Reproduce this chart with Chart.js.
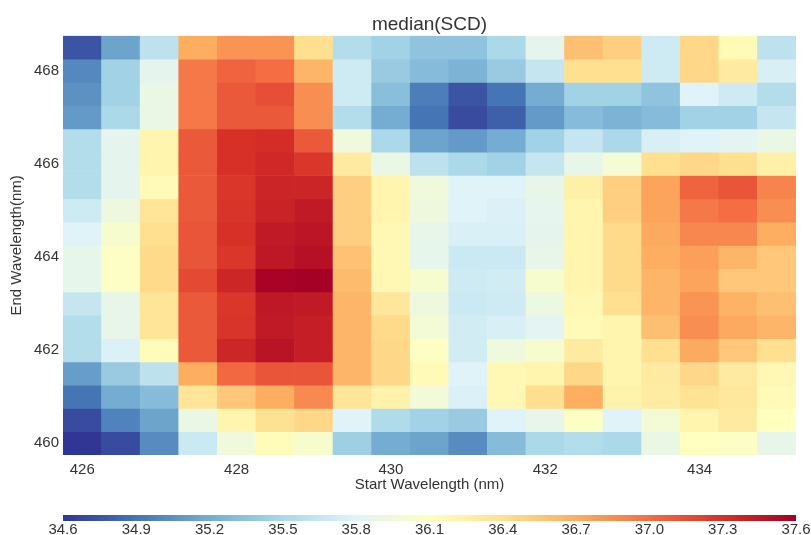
<!DOCTYPE html>
<html>
<head>
<meta charset="utf-8">
<script src="https://cdn.jsdelivr.net/npm/chart.js@4/dist/chart.umd.min.js"></script>
<style>
  body { margin: 0; background: #fff; }
  #wrap { position: relative; width: 811px; height: 535px; }
  #main { position: absolute; left: 0; top: 0; }
  #bar { position: absolute; left: 0; top: 500px; }
</style>
</head>
<body>
<div id="wrap">
  <canvas id="main" width="811" height="500"></canvas>
  <canvas id="bar" width="811" height="35"></canvas>
</div>
<script>
// start wavelengths (columns) and end wavelengths (rows, top to bottom)
const xValues = [426, 426.5, 427, 427.5, 428, 428.5, 429, 429.5, 430, 430.5,
  431, 431.5, 432, 432.5, 433, 433.5, 434, 434.5, 435];
const yValues = [468.5, 468, 467.5, 467, 466.5, 466, 465.5, 465, 464.5, 464,
  463.5, 463, 462.5, 462, 461.5, 461, 460.5, 460];

// median SCD per cell, one row per yValues entry
const scd = [
  [34.75, 35.15, 35.6, 36.7, 36.82, 36.82, 36.4, 35.55, 35.45, 35.35, 35.35, 35.5, 35.85, 36.6, 36.5, 35.7, 36.45, 36.15, 35.6],
  [35.0, 35.45, 35.85, 36.95, 37.05, 37.0, 36.65, 35.7, 35.4, 35.3, 35.25, 35.4, 35.65, 36.4, 36.4, 35.7, 36.45, 36.3, 35.75],
  [35.05, 35.45, 35.9, 36.95, 37.1, 37.15, 36.85, 35.7, 35.32, 34.95, 34.75, 34.9, 35.2, 35.45, 35.45, 35.35, 35.8, 35.7, 35.55],
  [35.1, 35.5, 35.9, 36.95, 37.1, 37.1, 36.85, 35.55, 35.2, 34.9, 34.7, 34.8, 35.1, 35.3, 35.25, 35.3, 35.45, 35.45, 35.65],
  [35.55, 35.85, 36.2, 37.1, 37.3, 37.32, 37.1, 35.95, 35.5, 35.15, 35.1, 35.2, 35.45, 35.65, 35.5, 35.75, 35.8, 35.83, 35.9],
  [35.55, 35.85, 36.2, 37.1, 37.3, 37.35, 37.27, 36.3, 35.9, 35.6, 35.5, 35.45, 35.65, 35.88, 36.0, 36.4, 36.45, 36.4, 36.25],
  [35.55, 35.85, 36.15, 37.1, 37.27, 37.37, 37.37, 36.5, 36.2, 35.95, 35.8, 35.8, 35.88, 36.25, 36.5, 36.75, 37.05, 37.12, 36.9],
  [35.7, 35.93, 36.35, 37.1, 37.28, 37.38, 37.44, 36.5, 36.2, 35.93, 35.8, 35.77, 35.86, 36.2, 36.5, 36.75, 36.95, 37.0, 36.85],
  [35.8, 36.02, 36.4, 37.12, 37.3, 37.44, 37.47, 36.5, 36.17, 35.88, 35.76, 35.76, 35.85, 36.2, 36.43, 36.72, 36.88, 36.88, 36.7],
  [35.87, 36.07, 36.43, 37.12, 37.27, 37.45, 37.5, 36.58, 36.17, 35.87, 35.68, 35.68, 35.88, 36.2, 36.43, 36.7, 36.77, 36.65, 36.55],
  [35.87, 36.07, 36.43, 37.17, 37.36, 37.58, 37.6, 36.62, 36.17, 36.02, 35.7, 35.72, 36.02, 36.2, 36.43, 36.65, 36.75, 36.55, 36.55],
  [35.65, 35.88, 36.35, 37.1, 37.27, 37.45, 37.44, 36.65, 36.33, 35.93, 35.68, 35.7, 35.92, 36.17, 36.4, 36.65, 36.82, 36.67, 36.6],
  [35.55, 35.88, 36.35, 37.1, 37.28, 37.44, 37.41, 36.65, 36.43, 35.98, 35.72, 35.75, 35.83, 36.15, 36.2, 36.6, 36.85, 36.72, 36.65],
  [35.55, 35.78, 36.14, 37.1, 37.36, 37.48, 37.41, 36.65, 36.45, 36.08, 35.72, 35.94, 36.02, 36.3, 36.2, 36.4, 36.72, 36.55, 36.4],
  [35.12, 35.4, 35.6, 36.7, 37.02, 37.12, 37.12, 36.65, 36.45, 36.15, 35.8, 36.17, 36.2, 36.45, 36.2, 36.3, 36.45, 36.3, 36.17],
  [34.9, 35.2, 35.3, 36.35, 36.55, 36.7, 36.87, 36.35, 36.22, 35.97, 35.78, 36.17, 36.4, 36.7, 36.22, 36.28, 36.37, 36.32, 36.15],
  [34.7, 34.97, 35.15, 35.9, 36.2, 36.38, 36.45, 35.8, 35.53, 35.45, 35.4, 35.8, 35.88, 36.08, 35.8, 35.98, 36.2, 36.3, 36.1],
  [34.6, 34.7, 35.02, 35.68, 35.95, 36.13, 36.02, 35.43, 35.2, 35.15, 35.02, 35.3, 35.5, 35.55, 35.5, 35.9, 36.1, 36.07, 35.88]
];

const xTicks = [426, 428, 430, 432, 434];
const yTicks = [460, 462, 464, 466, 468];
const cbTicks = [34.6, 34.9, 35.2, 35.5, 35.8, 36.1, 36.4, 36.7, 37.0, 37.3, 37.6];

// RdYlBu, reversed (low = blue)
const cmap = ["#313695", "#4575b4", "#74add1", "#abd9e9", "#e0f3f8", "#ffffbf",
  "#fee090", "#fdae61", "#f46d43", "#d73027", "#a50026"];
const vmin = cbTicks[0];
const vmax = cbTicks[cbTicks.length - 1];

function hexToRgb(h) {
  return [parseInt(h.slice(1, 3), 16), parseInt(h.slice(3, 5), 16), parseInt(h.slice(5, 7), 16)];
}

function colorFor(v) {
  let t = (v - vmin) / (vmax - vmin);
  t = Math.min(1, Math.max(0, t)) * (cmap.length - 1);
  const i = Math.min(cmap.length - 2, Math.floor(t));
  const f = t - i;
  const a = hexToRgb(cmap[i]);
  const b = hexToRgb(cmap[i + 1]);
  const c = a.map((ch, k) => Math.round(ch + (b[k] - ch) * f));
  return `rgb(${c[0]},${c[1]},${c[2]})`;
}

const textColor = "#333";
const family = "'Liberation Sans', Arial, sans-serif";
const half = 0.25;

const datasets = yValues.map((y, r) => ({
  label: String(y),
  data: xValues.map(() => [y - half, y + half]),
  backgroundColor: scd[r].map(colorFor),
  borderWidth: 0,
  grouped: false,
  barPercentage: 1,
  categoryPercentage: 1,
}));

new Chart(document.getElementById("main"), {
  type: "bar",
  data: { labels: xValues.map(String), datasets: datasets },
  options: {
    responsive: false,
    animation: false,
    layout: { padding: { left: 0, right: 15, top: 0, bottom: 0 } },
    plugins: {
      legend: { display: false },
      tooltip: { enabled: false },
      title: {
        display: true,
        fullSize: false, // centre over the plot, not the canvas
        text: "median(SCD)",
        color: textColor,
        font: { family: family, size: 19, weight: "normal" },
        padding: { top: 13, bottom: 0 },
      },
    },
    scales: {
      x: {
        type: "category",
        grid: { display: false, drawTicks: false },
        border: { display: false },
        afterFit: (s) => { s.height = 45; },
        ticks: {
          autoSkip: false,
          maxRotation: 0,
          padding: 6,
          color: textColor,
          font: { family: family, size: 15 },
          callback: function (val, i) {
            return xTicks.includes(xValues[i]) ? String(xValues[i]) : "";
          },
        },
        title: {
          display: true,
          text: "Start Wavelength (nm)",
          color: textColor,
          font: { family: family, size: 15 },
          padding: { top: 0, bottom: 6 },
        },
      },
      y: {
        type: "linear",
        min: yValues[yValues.length - 1] - half,
        max: yValues[0] + half,
        grid: { display: false, drawTicks: false },
        border: { display: false },
        afterFit: (s) => { s.width = 63; },
        afterBuildTicks: (s) => { s.ticks = yTicks.map((v) => ({ value: v })); },
        ticks: {
          padding: 4,
          color: textColor,
          font: { family: family, size: 15 },
        },
        title: {
          display: true,
          text: "End Wavelength(nm)",
          color: textColor,
          font: { family: family, size: 15 },
          padding: { top: 8, bottom: 0 },
        },
      },
    },
  },
});

// colour bar
new Chart(document.getElementById("bar"), {
  type: "bar",
  data: {
    labels: ["scale"],
    datasets: [{
      data: [[vmin, vmax]],
      borderWidth: 0,
      barPercentage: 1,
      categoryPercentage: 1,
      backgroundColor: (ctx) => {
        const ch = ctx.chart;
        if (!ch.chartArea) return cmap[0];
        const xs = ch.scales.x;
        const g = ch.ctx.createLinearGradient(xs.getPixelForValue(vmin), 0, xs.getPixelForValue(vmax), 0);
        cmap.forEach((c, i) => g.addColorStop(i / (cmap.length - 1), c));
        return g;
      },
    }],
  },
  options: {
    indexAxis: "y",
    responsive: false,
    animation: false,
    layout: { padding: { left: 63, right: 15, top: 15, bottom: 0 } },
    plugins: { legend: { display: false }, tooltip: { enabled: false } },
    scales: {
      x: {
        type: "linear",
        min: vmin,
        max: vmax,
        grid: { display: false, drawTicks: false },
        border: { display: false },
        afterFit: (s) => { s.height = 14; },
        afterBuildTicks: (s) => { s.ticks = cbTicks.map((v) => ({ value: v })); },
        ticks: {
          padding: 0,
          autoSkip: false,
          maxRotation: 0,
          color: textColor,
          font: { family: family, size: 15 },
          callback: (v) => Number(v).toFixed(1),
        },
      },
      y: { display: false },
    },
  },
});
</script>
</body>
</html>
